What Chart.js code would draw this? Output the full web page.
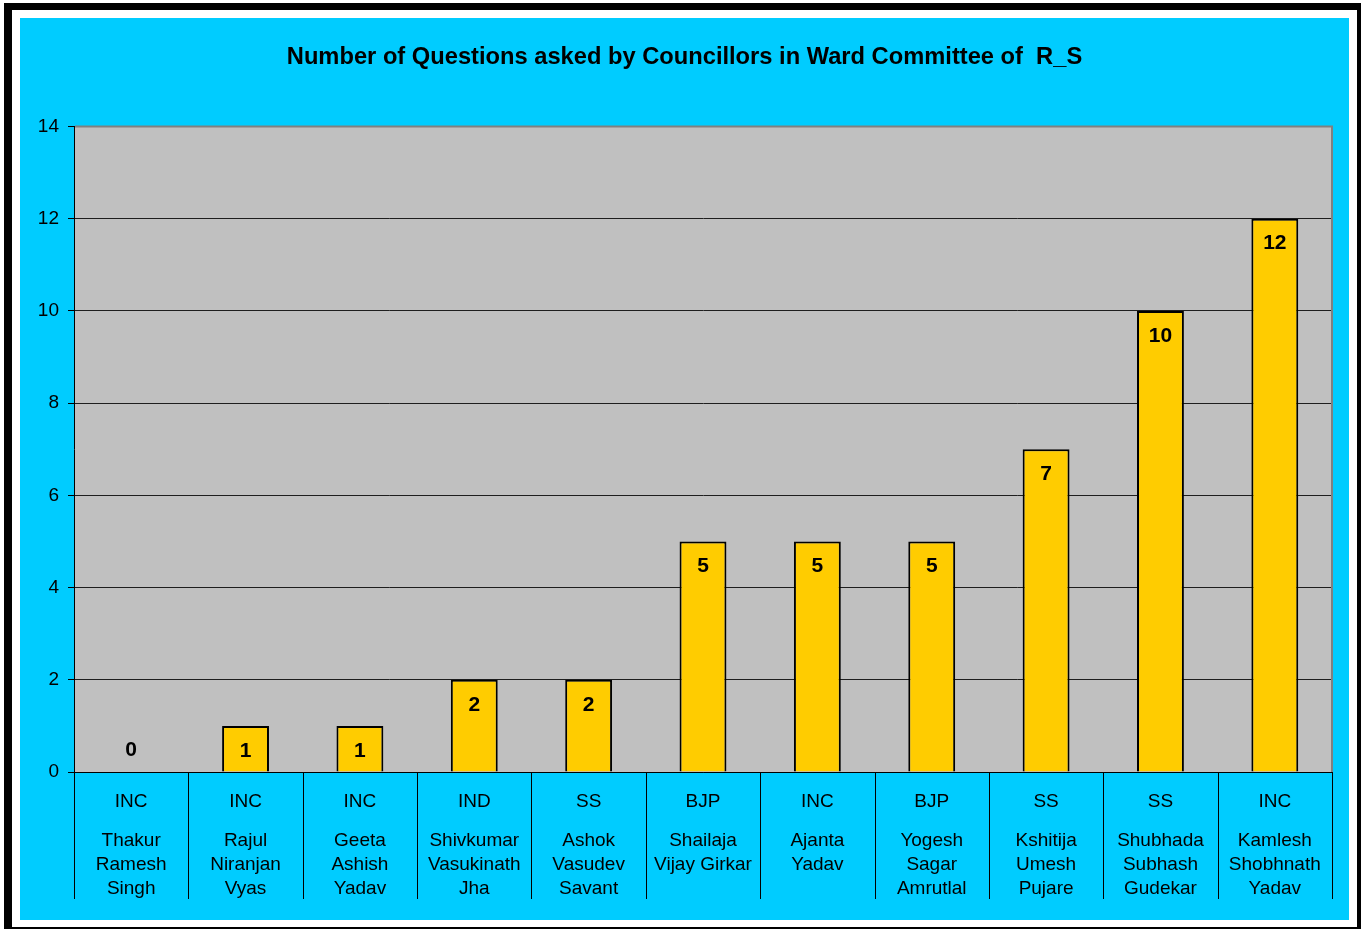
<!DOCTYPE html>
<html>
<head>
<meta charset="utf-8">
<title>Questions asked by Councillors - Ward Committee R_S</title>
<script src="https://cdn.jsdelivr.net/npm/chart.js@4/dist/chart.umd.min.js"></script>
<style>
  html, body { margin: 0; padding: 0; background: #ffffff; }
  #wrap { width: 1361px; height: 929px; position: relative; }
</style>
</head>
<body>
<div id="wrap"><canvas id="chart" width="1361" height="929"></canvas></div>
<script>
// Councillor party affiliation (first label row)
const parties = ['INC', 'INC', 'INC', 'IND', 'SS', 'BJP', 'INC', 'BJP', 'SS', 'SS', 'INC'];

// Councillor names, one array entry per printed line
const councillors = [
  ['Thakur', 'Ramesh', 'Singh'],
  ['Rajul', 'Niranjan', 'Vyas'],
  ['Geeta', 'Ashish', 'Yadav'],
  ['Shivkumar', 'Vasukinath', 'Jha'],
  ['Ashok', 'Vasudev', 'Savant'],
  ['Shailaja', 'Vijay Girkar'],
  ['Ajanta', 'Yadav'],
  ['Yogesh', 'Sagar', 'Amrutlal'],
  ['Kshitija', 'Umesh', 'Pujare'],
  ['Shubhada', 'Subhash', 'Gudekar'],
  ['Kamlesh', 'Shobhnath', 'Yadav']
];

// Number of questions asked by each councillor
const questions = [0, 1, 1, 2, 2, 5, 5, 5, 7, 10, 12];

// Value axis range
const yMin = 0;
const yMax = 14;
const yStep = 2;

const FONT = "'Liberation Sans', Arial, Helvetica, sans-serif";
Chart.defaults.font.family = FONT;
Chart.defaults.color = '#000000';

// Page frame, cyan panel, grey plot background, plot border and category dividers
const framePlugin = {
  id: 'frame',
  beforeDraw(chart) {
    const ctx = chart.ctx;
    const W = chart.width, H = chart.height;
    ctx.save();
    ctx.fillStyle = '#ffffff';
    ctx.fillRect(0, 0, W, H);
    ctx.fillStyle = '#000000';
    ctx.fillRect(4, 3, W - 4, H - 3);
    ctx.fillStyle = '#ffffff';
    ctx.fillRect(12, 10, W - 4 - 12, H - 2 - 10);
    ctx.fillStyle = '#00CCFF';
    ctx.fillRect(20, 18, 1349 - 20, 920 - 18);
    const a = chart.chartArea;
    ctx.fillStyle = '#C0C0C0';
    ctx.fillRect(a.left, a.top, a.right - a.left, a.bottom - a.top);
    ctx.restore();
  },
  afterDraw(chart) {
    const ctx = chart.ctx;
    const a = chart.chartArea;
    const xs = chart.scales.x;
    const nameAxis = chart.scales.x2;
    ctx.save();
    // grey top and right edges of the plot
    ctx.strokeStyle = '#808080';
    ctx.lineWidth = 2;
    ctx.beginPath();
    ctx.moveTo(a.left + 1, a.top);
    ctx.lineTo(a.right, a.top);
    ctx.lineTo(a.right, a.bottom);
    ctx.stroke();
    // dividers between the category label cells
    const n = xs.getLabels().length;
    const half = (xs.getPixelForValue(1) - xs.getPixelForValue(0)) / 2;
    ctx.strokeStyle = '#000000';
    ctx.lineWidth = 1;
    ctx.beginPath();
    for (let i = 0; i <= n; i++) {
      const px = Math.round(i < n ? xs.getPixelForValue(i) - half : xs.getPixelForValue(n - 1) + half) + 0.5;
      ctx.moveTo(px, a.bottom);
      ctx.lineTo(px, nameAxis.bottom);
    }
    ctx.stroke();
    ctx.restore();
  }
};

// Value printed near the top of each bar
const valueLabelPlugin = {
  id: 'valueLabels',
  afterDatasetsDraw(chart) {
    const ctx = chart.ctx;
    const meta = chart.getDatasetMeta(0);
    const values = chart.data.datasets[0].data;
    ctx.save();
    ctx.font = 'bold 21px ' + FONT;
    ctx.fillStyle = '#000000';
    ctx.textAlign = 'center';
    ctx.textBaseline = 'middle';
    meta.data.forEach((bar, i) => {
      const v = values[i];
      const y = v > 0 ? bar.y + 25 : bar.base - 22;
      ctx.fillText(String(v), bar.x, y);
    });
    ctx.restore();
  }
};

new Chart(document.getElementById('chart'), {
  type: 'bar',
  data: {
    labels: councillors,
    datasets: [{
      label: 'Questions',
      data: questions,
      backgroundColor: '#FFCC00',
      borderColor: '#000000',
      borderWidth: 2,
      categoryPercentage: 1,
      barPercentage: 0.41
    }]
  },
  options: {
    responsive: false,
    animation: false,
    devicePixelRatio: 1,
    layout: { padding: { left: 37, right: 29, top: 0, bottom: 30 } },
    plugins: {
      legend: { display: false },
      tooltip: { enabled: false },
      title: {
        display: true,
        text: 'Number of Questions asked by Councillors in Ward Committee of  R_S',
        color: '#000000',
        font: { family: FONT, size: 23.7, weight: 'bold', lineHeight: 1.2 },
        padding: { top: 43, bottom: 55 }
      }
    },
    scales: {
      y: {
        min: yMin,
        max: yMax,
        afterFit(scale) { scale.width = 37; },
        ticks: {
          stepSize: yStep,
          padding: 9,
          color: '#000000',
          font: { family: FONT, size: 19 }
        },
        grid: {
          color: '#1e1e1e',
          lineWidth: 1,
          tickLength: 6,
          tickColor: '#000000'
        },
        border: { display: true, color: '#000000', width: 1 }
      },
      x: {
        position: 'bottom',
        offset: true,
        weight: 0,
        afterFit(scale) { scale.height = 40; },
        afterTickToLabelConversion(scale) {
          scale.ticks.forEach((t, i) => { t.label = parties[i]; });
        },
        grid: { display: false, drawTicks: false },
        border: { display: true, color: '#000000', width: 1 },
        ticks: {
          padding: 18,
          maxRotation: 0,
          autoSkip: false,
          color: '#000000',
          font: { family: FONT, size: 19, lineHeight: '24px' }
        }
      },
      x2: {
        type: 'category',
        position: 'bottom',
        offset: true,
        weight: 1,
        afterFit(scale) { scale.height = 87; },
        grid: { display: false, drawTicks: false },
        border: { display: false },
        ticks: {
          padding: 17,
          maxRotation: 0,
          autoSkip: false,
          color: '#000000',
          font: { family: FONT, size: 19, lineHeight: '24px' }
        }
      }
    }
  },
  plugins: [framePlugin, valueLabelPlugin]
});
</script>
</body>
</html>
